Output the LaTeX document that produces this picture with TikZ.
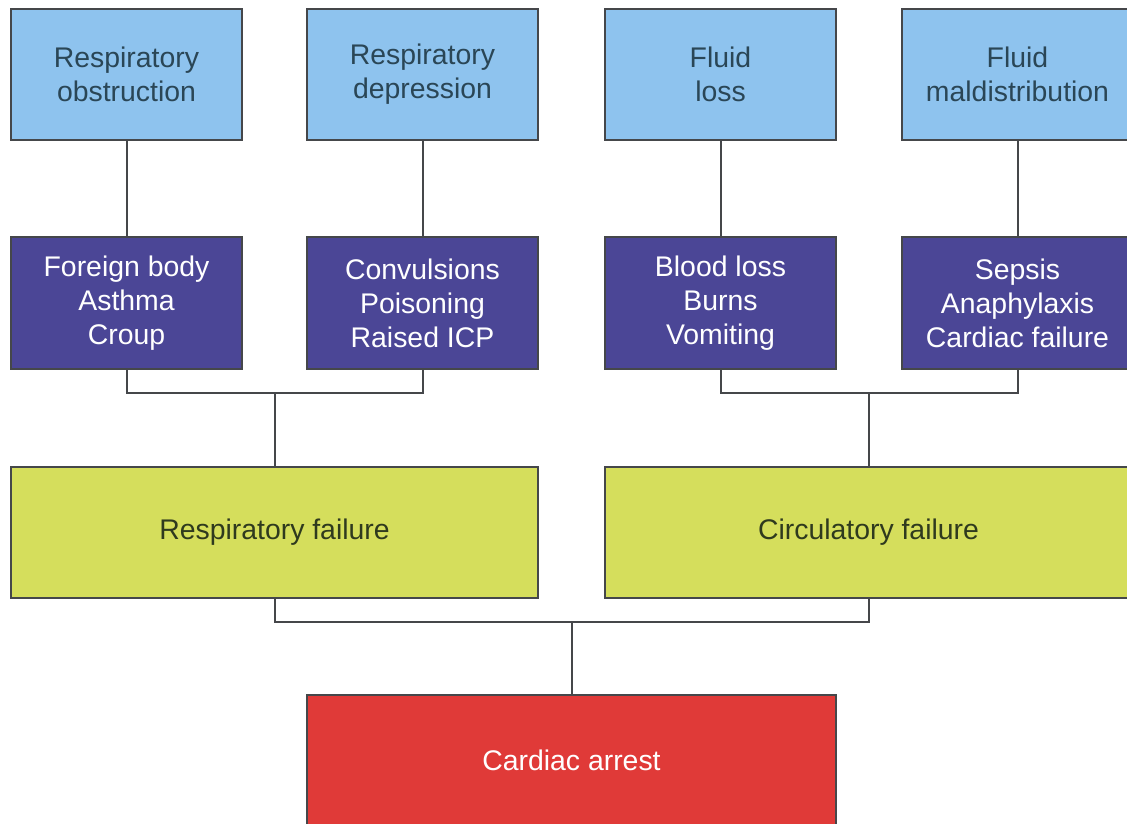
\documentclass[tikz,border=0pt]{standalone}
\usepackage{fontspec}
\setmainfont{Liberation Sans}
\definecolor{causeblue}{HTML}{8EC3EE}
\definecolor{causetext}{HTML}{2A4656}
\definecolor{examplepurple}{HTML}{4B4696}
\definecolor{failgreen}{HTML}{D5DE5C}
\definecolor{failtext}{HTML}{2F3A1E}
\definecolor{arrestred}{HTML}{E03A38}
\definecolor{edgegrey}{HTML}{45474A}

\begin{document}
\begin{tikzpicture}[x=0.5pt, y=-0.5pt]
\tikzset{box/.style={draw=edgegrey, line width=1pt, minimum width=115.5pt, minimum height=65.5pt,
   inner sep=0pt, align=center, font=\fontsize{14.2}{17}\selectfont},
 cause/.style={box, fill=causeblue, text=causetext},
 example/.style={box, fill=examplepurple, text=white},
 failure/.style={box, fill=failgreen, text=failtext, minimum width=263.5pt},
 arrest/.style={box, fill=arrestred, text=white, minimum width=264.5pt},
 link/.style={draw=edgegrey, line width=1pt}}
\clip (0,0) rectangle (1127,823);
\fill[white] (0,0) rectangle (1127,823);
% causes
\node[cause] (resobs) at (126.5,74.5) {Respiratory\\obstruction};
\node[cause] (resdep) at (422.5,74.5) {Respiratory\\depression};
\node[cause] (fluloss) at (720.5,74.5) {Fluid\\loss};
\node[cause] (fludis) at (1017.5,74.5) {Fluid\\maldistribution};
% examples
\node[example] (foreign) at (126.5,303) {Foreign body\\Asthma\\Croup};
\node[example] (convul) at (422.5,303) {Convulsions\\Poisoning\\Raised ICP};
\node[example] (blood) at (720.5,303) {Blood loss\\Burns\\Vomiting};
\node[example] (sepsis) at (1017.5,303) {Sepsis\\Anaphylaxis\\Cardiac failure};
% failures
\node[failure] (resfail) at (274.5,532) {Respiratory failure};
\node[failure] (circfail) at (868.5,532) {Circulatory failure};
\node[arrest] (arrest) at (571.5,760.5) {Cardiac arrest};
% links
\coordinate (resbus) at (274.5,393);
\coordinate (circbus) at (868.5,393);
\coordinate (failbus) at (571.5,622);
\draw[link] (resobs) -- (foreign);
\draw[link] (resdep) -- (convul);
\draw[link] (fluloss) -- (blood);
\draw[link] (fludis) -- (sepsis);
\draw[link] (foreign.south) |- (resbus) -| (convul.south);
\draw[link] (blood.south) |- (circbus) -| (sepsis.south);
\draw[link] (resbus) -- (resfail.north);
\draw[link] (circbus) -- (circfail.north);
\draw[link] (resfail.south) |- (failbus) -| (circfail.south);
\draw[link] (failbus) -- (arrest.north);
\end{tikzpicture}
\end{document}
